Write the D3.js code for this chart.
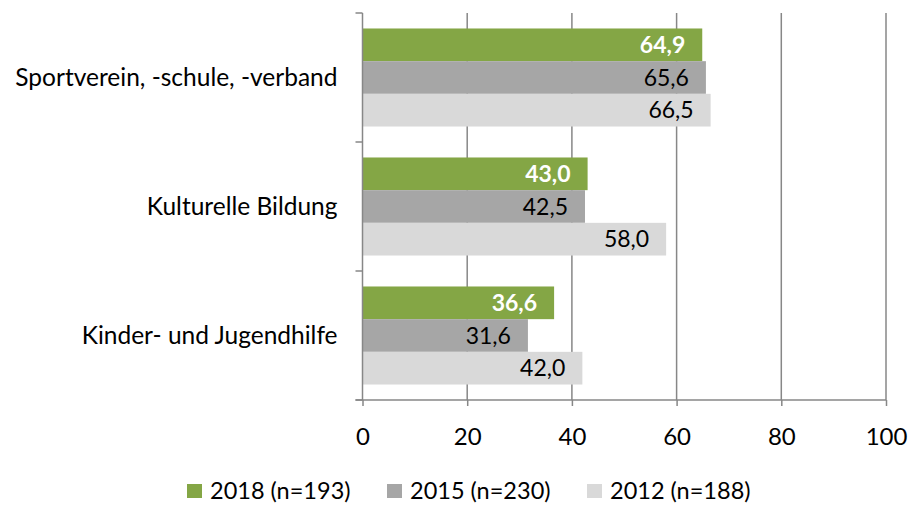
<!DOCTYPE html>
<html>
<head>
<meta charset="utf-8">
<script src="https://cdn.jsdelivr.net/npm/d3@7"></script>
<style>
  body { margin: 0; background: #fff; }
  svg { font-family: Lato, "Open Sans", sans-serif; }
</style>
</head>
<body>
<svg id="chart" width="908" height="505"></svg>
<script>
const categories = ["Sportverein, -schule, -verband", "Kulturelle Bildung", "Kinder- und Jugendhilfe"];
const seriesNames = ["2018 (n=193)", "2015 (n=230)", "2012 (n=188)"];
const values2018 = [64.9, 43.0, 36.6];
const values2015 = [65.6, 42.5, 31.6];
const values2012 = [66.5, 58.0, 42.0];
const xTicks = [0, 20, 40, 60, 80, 100];

const colors = ["#84a645", "#a6a6a6", "#d9d9d9"];
const series = [values2018, values2015, values2012];

const margin = { top: 13, right: 22, bottom: 105, left: 362.5 };
const width = 908 - margin.left - margin.right;
const height = 505 - margin.top - margin.bottom;

const svg = d3.select("svg#chart");
const g = svg.append("g")
  .attr("transform", "translate(" + margin.left + ", " + margin.top + ")");

const xScale = d3.scaleLinear().domain([0, 100]).range([0, width]);
const yScale = d3.scaleBand().domain(categories).range([0, height]).paddingInner(0.24).paddingOuter(0.12);
const inner = d3.scaleBand().domain(d3.range(3)).range([0, yScale.bandwidth()]);

const gridColor = "#878787";

// vertical grid
g.selectAll("line.grid")
  .data(xTicks.slice(1))
  .enter()
  .append("line")
  .attr("x1", d => xScale(d))
  .attr("x2", d => xScale(d))
  .attr("y1", 0)
  .attr("y2", height)
  .style("stroke", gridColor)
  .style("stroke-width", 1.5);

// bars
categories.forEach((cat, ci) => {
  series.forEach((vals, si) => {
    const y0 = yScale(cat) + inner(si);
    g.append("rect")
      .attr("x", xScale(0))
      .attr("y", y0)
      .attr("width", xScale(vals[ci]) - xScale(0))
      .attr("height", inner.bandwidth())
      .style("fill", colors[si]);
    g.append("text")
      .attr("x", xScale(vals[ci]) - 17)
      .attr("y", y0 + inner.bandwidth() / 2)
      .attr("dy", "0.36em")
      .attr("text-anchor", "end")
      .style("font-size", "23px")
      .style("font-weight", si === 0 ? "bold" : "normal")
      .style("fill", si === 0 ? "#fff" : "#000")
      .text(vals[ci].toFixed(1).replace(".", ","));
  });
});

// x axis
const xAxis = d3.axisBottom(xScale).tickValues(xTicks).tickSize(6).tickPadding(22);
const xg = g.append("g")
  .attr("transform", "translate(0, " + height + ")")
  .call(xAxis);
xg.select(".domain").attr("d", "M-7,0H" + width).style("stroke", gridColor).style("stroke-width", 1.5);
xg.selectAll(".tick line").style("stroke", gridColor).style("stroke-width", 1.5);
xg.selectAll(".tick text").style("font-size", "24px").style("font-family", "Lato, sans-serif").style("fill", "#000");

// y axis
const boundaries = [0, height / 3, 2 * height / 3, height];
g.append("line")
  .attr("x1", 0).attr("x2", 0).attr("y1", 0).attr("y2", height)
  .style("stroke", gridColor).style("stroke-width", 1.5);
g.selectAll("line.ytick")
  .data(boundaries)
  .enter()
  .append("line")
  .attr("x1", -7).attr("x2", 0)
  .attr("y1", d => d).attr("y2", d => d)
  .style("stroke", gridColor).style("stroke-width", 1.5);

g.selectAll("text.cat")
  .data(categories)
  .enter()
  .append("text")
  .attr("x", -25)
  .attr("y", d => yScale(d) + yScale.bandwidth() / 2)
  .attr("dy", "0.36em")
  .attr("text-anchor", "end")
  .style("font-size", "24.5px")
  .text(d => d);

// legend
const legendX = [187, 387, 587];
const legend = svg.append("g");
seriesNames.forEach((name, i) => {
  legend.append("rect")
    .attr("x", legendX[i]).attr("y", 484)
    .attr("width", 15).attr("height", 14)
    .style("fill", colors[i]);
  legend.append("text")
    .attr("x", legendX[i] + 23).attr("y", 491)
    .attr("dy", "0.36em")
    .style("font-size", "23.5px")
    .text(name);
});
</script>
</body>
</html>
